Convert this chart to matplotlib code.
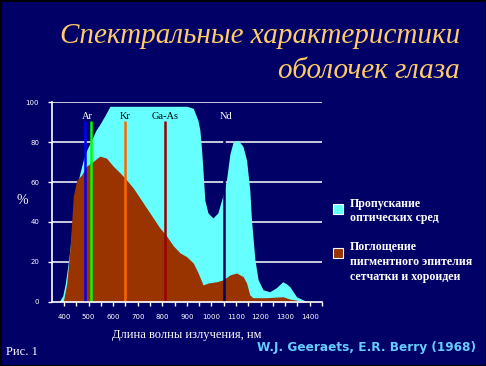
import matplotlib
matplotlib.use('Agg')
import matplotlib.pyplot as plt
from matplotlib.patches import Rectangle

# Пропускание оптических сред (%)
trans_nm = [380, 395, 405, 420, 440, 460, 472, 485, 500, 512, 530, 546, 565, 587,
            620, 900, 926, 945, 953, 960, 966, 973, 986, 1006, 1026, 1046, 1061,
            1075, 1088, 1108, 1128, 1143, 1156, 1163, 1177, 1190, 1210, 1237, 1264,
            1290, 1305, 1319, 1346, 1380, 1392]
trans_val = [0, 3, 9, 22, 45, 62, 68, 74, 78, 81, 86, 89, 93, 98,
             98, 98, 97, 91, 86, 76, 65, 51, 44.5, 42, 44.5, 53, 61,
             74, 80, 81, 78, 71, 56, 41, 21, 11, 6, 5, 7,
             10, 9, 7.5, 2.5, 0.5, 0]

# Поглощение пигментного эпителия сетчатки и хороидеи (%)
absorb_nm = [397, 411, 424, 431, 438, 452, 472, 492, 519, 546, 573, 600, 628, 655,
             682, 709, 736, 763, 790, 817, 845, 872, 899, 926, 946, 966, 987, 1021,
             1048, 1075, 1102, 1129, 1143, 1156, 1169, 1224, 1291, 1319, 1360, 1400]
absorb_val = [0, 9, 26, 39.5, 53, 61, 63.6, 68, 70.4, 73, 72, 68, 64.6, 61,
              57, 52, 47, 42, 37, 33, 28, 24.5, 22.6, 19.4, 14.4, 8.4, 9.4, 10,
              11, 13.4, 14.4, 12.6, 9.4, 3.4, 2, 2, 2.5, 1.3, 0.5, 0]

# лазеры
laser_nm = [485, 508, 648, 810, 1053]
laser_colors = ['#0000FF', '#00FF00', '#FF6600', '#990000', '#000066']
label_names = ['Ar', 'Kr', 'Ga-As', 'Nd']
label_nm = [496, 648, 812, 1060]
label_colors = ['white', 'black', 'black', 'white']

xticks = list(range(400, 1401, 100))
xminor = list(range(450, 1451, 100))
yticks = [0, 20, 40, 60, 80, 100]

bg = '#000066'
cyan = '#66FFFF'
brown = '#993300'

fig = plt.figure(figsize=(4.86, 3.66), dpi=100, facecolor=bg)
ax = fig.add_axes([0.1064, 0.1757, 0.5562, 0.5448])
ax.set_facecolor(bg)

for y in yticks[1:]:
    ax.axhline(y, color='white', lw=1.1, zorder=1)

ax.fill_between(trans_nm, trans_val, color=cyan, lw=0, zorder=2)
ax.fill_between(absorb_nm, absorb_val, color=brown, lw=0, zorder=3)

for x, c in zip(laser_nm, laser_colors):
    ax.plot([x, x], [0, 90.5], color=c, lw=1.8, zorder=4, solid_capstyle='butt')
for name, x, c in zip(label_names, label_nm, label_colors):
    ax.text(x, 93, name, color=c, ha='center', va='center', fontsize=7.5,
            family='Liberation Serif', zorder=5)

ax.set_xlim(350, 1450)
ax.set_ylim(0, 100)
ax.set_xticks(xticks)
ax.set_xticks(xminor, minor=True)
ax.set_yticks(yticks)
ax.set_xticklabels([str(v) for v in xticks])
ax.tick_params(colors='white', labelsize=5, length=3, width=1, pad=6)
ax.tick_params(axis='x', which='minor', colors='white', length=3, width=1)
for s in ['top', 'right']:
    ax.spines[s].set_visible(False)
for s in ['left', 'bottom']:
    ax.spines[s].set_color('white')
    ax.spines[s].set_linewidth(1.2)
    ax.spines[s].set_zorder(6)

ax.set_xlabel('Длина волны излучения, нм', color='white', fontsize=9,
              family='Liberation Serif', labelpad=6)
fig.text(22 / 486, 1 - 200 / 366, '%', color='white', fontsize=10,
         family='Liberation Serif', ha='center', va='center')

# Заголовок
fig.text(460 / 486, 1 - 36 / 366, 'Спектральные характеристики', color='#FFCC66',
         fontsize=21, style='italic', family='Liberation Serif', ha='right', va='center')
fig.text(460 / 486, 1 - 71 / 366, 'оболочек глаза', color='#FFCC66',
         fontsize=21, style='italic', family='Liberation Serif', ha='right', va='center')

# Легенда
fig.patches.append(Rectangle((333 / 486, 1 - 214 / 366), 10 / 486, 10 / 366,
                             transform=fig.transFigure, facecolor=cyan,
                             edgecolor='white', lw=0.8))
fig.patches.append(Rectangle((333 / 486, 1 - 258 / 366), 10 / 486, 10 / 366,
                             transform=fig.transFigure, facecolor=brown,
                             edgecolor='white', lw=0.8))
fig.text(350 / 486, 1 - 211 / 366, 'Пропускание\nоптических сред', color='white',
         fontsize=8.6, weight='bold', family='Liberation Serif', ha='left', va='center',
         linespacing=1.3)
fig.text(350 / 486, 1 - 262 / 366, 'Поглощение\nпигментного эпителия\nсетчатки и хороидеи',
         color='white', fontsize=8.6, weight='bold', family='Liberation Serif',
         ha='left', va='center', linespacing=1.3)

fig.text(6 / 486, 1 - 352 / 366, 'Рис. 1', color='white', fontsize=9,
         family='Liberation Serif', ha='left', va='center')
fig.text(476 / 486, 1 - 347 / 366, 'W.J. Geeraets, E.R. Berry (1968)', color='#66CCFF',
         fontsize=8.7, weight='bold', family='DejaVu Sans', ha='right', va='center')

fig.patches.append(Rectangle((0, 0), 1, 1, transform=fig.transFigure, fill=False,
                             edgecolor='black', lw=2))

fig.savefig('out.png', dpi=100, facecolor=bg)
